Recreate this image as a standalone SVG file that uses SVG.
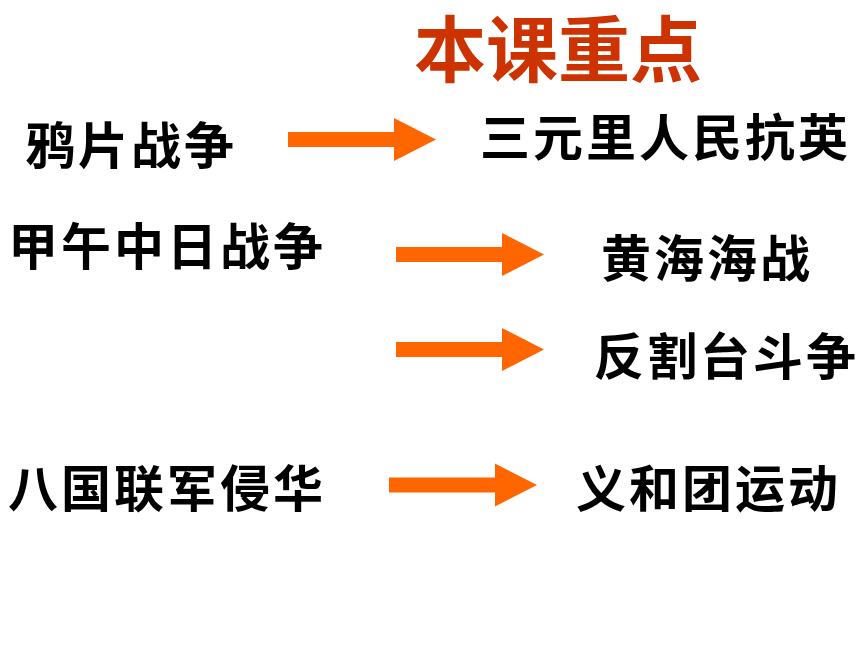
<svg xmlns="http://www.w3.org/2000/svg" width="860" height="645" viewBox="0 0 860 645">
<style>
.t{font-family:"Noto Sans CJK SC","Liberation Sans",sans-serif;font-weight:bold;font-size:50px;letter-spacing:3px;fill:#000}
.title{font-family:"Noto Sans CJK SC","Liberation Sans",sans-serif;font-weight:bold;font-size:72px;fill:#CC3300}
.arr{fill:#FF6600}
</style>
<defs>
<path id="arrow" d="M0,-7.5 H106 V-21.5 L148,0 L106,21.5 V7.5 H0 Z"/>
</defs>
<rect width="860" height="645" fill="#fff"/>
<g id="title"><text class="title" x="414" y="76">本课重点</text></g>
<g id="n-yapian"><text class="t" x="25" y="164">鸦片战争</text></g>
<g id="n-jiawu"><text class="t" x="8" y="265">甲午中日战争</text></g>
<g id="n-baguo"><text class="t" x="8" y="507">八国联军侵华</text></g>
<g id="n-sanyuanli"><text class="t" x="480" y="156">三元里人民抗英</text></g>
<g id="n-huanghai"><text class="t" x="601" y="277">黄海海战</text></g>
<g id="n-fange"><text class="t" x="594" y="375">反割台斗争</text></g>
<g id="n-yihetuan"><text class="t" x="576" y="507">义和团运动</text></g>
<g id="connectors">
<use href="#arrow" class="arr" transform="translate(288,139.5)"/>
<use href="#arrow" class="arr" transform="translate(396,254.5)"/>
<use href="#arrow" class="arr" transform="translate(396,349.5)"/>
<use href="#arrow" class="arr" transform="translate(389,485)"/>
</g>
</svg>
